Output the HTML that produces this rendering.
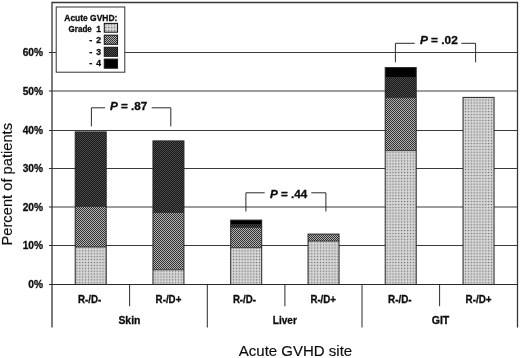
<!DOCTYPE html>
<html><head><meta charset="utf-8"><title>Acute GVHD site</title>
<style>
html,body{margin:0;padding:0;background:#fff;}
body{width:520px;height:358px;overflow:hidden;}
svg{display:block;font-family:"Liberation Sans",Arial,Helvetica,sans-serif;}
text{fill:#0c0c0c;stroke:#0c0c0c;stroke-width:0.15px;}
.b{font-weight:bold;stroke:#0c0c0c;stroke-width:0.3px;}
</style></head><body>
<svg width="520" height="358" viewBox="0 0 520 358">
<defs>
<pattern id="g1" width="2.9" height="2.9" patternUnits="userSpaceOnUse"><rect width="2.9" height="2.9" fill="#d7d7d7"/><rect x="0.9" y="0.9" width="1.2" height="1.2" fill="#6a6a6a"/></pattern>
<pattern id="g2" width="2" height="2" patternUnits="userSpaceOnUse"><rect width="2" height="2" fill="#b2b2b2"/><rect width="1" height="1" fill="#303030"/><rect x="1" y="1" width="1" height="1" fill="#303030"/></pattern>
<pattern id="g3" width="2" height="2" patternUnits="userSpaceOnUse"><rect width="2" height="2" fill="#161616"/><rect width="1" height="1" fill="#4c4c4c"/><rect x="1" y="1" width="1" height="1" fill="#4c4c4c"/></pattern>
</defs>
<rect width="520" height="358" fill="#fff"/>

<line x1="52.0" x2="517.5" y1="245.50" y2="245.50" stroke="#3a3a3a" stroke-width="1"/>
<line x1="52.0" x2="517.5" y1="207.00" y2="207.00" stroke="#3a3a3a" stroke-width="1"/>
<line x1="52.0" x2="517.5" y1="168.50" y2="168.50" stroke="#3a3a3a" stroke-width="1"/>
<line x1="52.0" x2="517.5" y1="130.50" y2="130.50" stroke="#3a3a3a" stroke-width="1"/>
<line x1="52.0" x2="517.5" y1="91.00" y2="91.00" stroke="#3a3a3a" stroke-width="1"/>
<line x1="52.0" x2="517.5" y1="52.50" y2="52.50" stroke="#3a3a3a" stroke-width="1"/>
<path d="M52.0 327.5V2.5H517.5V327.5" fill="none" stroke="#363636" stroke-width="1.3"/>
<line x1="49" x2="517.5" y1="284.5" y2="284.5" stroke="#2a2a2a" stroke-width="1"/>
<line x1="49" x2="52.0" y1="284.50" y2="284.50" stroke="#2a2a2a" stroke-width="1"/>
<text class="b" x="28.20" y="288.30" font-size="10.4" textLength="14.80" lengthAdjust="spacingAndGlyphs">0%</text>
<line x1="49" x2="52.0" y1="245.50" y2="245.50" stroke="#2a2a2a" stroke-width="1"/>
<text class="b" x="22.70" y="249.30" font-size="10.4" textLength="20.30" lengthAdjust="spacingAndGlyphs">10%</text>
<line x1="49" x2="52.0" y1="207.00" y2="207.00" stroke="#2a2a2a" stroke-width="1"/>
<text class="b" x="22.70" y="210.80" font-size="10.4" textLength="20.30" lengthAdjust="spacingAndGlyphs">20%</text>
<line x1="49" x2="52.0" y1="168.50" y2="168.50" stroke="#2a2a2a" stroke-width="1"/>
<text class="b" x="22.70" y="172.30" font-size="10.4" textLength="20.30" lengthAdjust="spacingAndGlyphs">30%</text>
<line x1="49" x2="52.0" y1="130.50" y2="130.50" stroke="#2a2a2a" stroke-width="1"/>
<text class="b" x="22.70" y="134.30" font-size="10.4" textLength="20.30" lengthAdjust="spacingAndGlyphs">40%</text>
<line x1="49" x2="52.0" y1="91.00" y2="91.00" stroke="#2a2a2a" stroke-width="1"/>
<text class="b" x="22.70" y="94.80" font-size="10.4" textLength="20.30" lengthAdjust="spacingAndGlyphs">50%</text>
<line x1="49" x2="52.0" y1="52.50" y2="52.50" stroke="#2a2a2a" stroke-width="1"/>
<text class="b" x="22.70" y="56.30" font-size="10.4" textLength="20.30" lengthAdjust="spacingAndGlyphs">60%</text>
<rect x="75.20" y="247.00" width="31" height="37.50" fill="url(#g1)"/>
<rect x="75.20" y="206.40" width="31" height="40.60" fill="url(#g2)"/>
<line x1="75.20" x2="106.20" y1="247.00" y2="247.00" stroke="#222" stroke-width="0.8"/>
<rect x="75.20" y="131.90" width="31" height="74.50" fill="url(#g3)"/>
<line x1="75.20" x2="106.20" y1="206.40" y2="206.40" stroke="#222" stroke-width="0.8"/>
<rect x="75.20" y="131.90" width="31" height="152.60" fill="none" stroke="#262626" stroke-width="1"/>
<rect x="152.95" y="269.80" width="31" height="14.70" fill="url(#g1)"/>
<rect x="152.95" y="212.50" width="31" height="57.30" fill="url(#g2)"/>
<line x1="152.95" x2="183.95" y1="269.80" y2="269.80" stroke="#222" stroke-width="0.8"/>
<rect x="152.95" y="140.90" width="31" height="71.60" fill="url(#g3)"/>
<line x1="152.95" x2="183.95" y1="212.50" y2="212.50" stroke="#222" stroke-width="0.8"/>
<rect x="152.95" y="140.90" width="31" height="143.60" fill="none" stroke="#262626" stroke-width="1"/>
<rect x="230.70" y="247.70" width="31" height="36.80" fill="url(#g1)"/>
<rect x="230.70" y="227.40" width="31" height="20.30" fill="url(#g2)"/>
<line x1="230.70" x2="261.70" y1="247.70" y2="247.70" stroke="#222" stroke-width="0.8"/>
<rect x="230.70" y="224.60" width="31" height="2.80" fill="url(#g3)"/>
<line x1="230.70" x2="261.70" y1="227.40" y2="227.40" stroke="#222" stroke-width="0.8"/>
<rect x="230.70" y="220.10" width="31" height="4.50" fill="#000"/>
<line x1="230.70" x2="261.70" y1="224.60" y2="224.60" stroke="#222" stroke-width="0.8"/>
<rect x="230.70" y="220.10" width="31" height="64.40" fill="none" stroke="#262626" stroke-width="1"/>
<rect x="308.05" y="241.10" width="31" height="43.40" fill="url(#g1)"/>
<rect x="308.05" y="234.10" width="31" height="7.00" fill="url(#g2)"/>
<line x1="308.05" x2="339.05" y1="241.10" y2="241.10" stroke="#222" stroke-width="0.8"/>
<rect x="308.05" y="234.10" width="31" height="50.40" fill="none" stroke="#262626" stroke-width="1"/>
<rect x="385.20" y="150.60" width="31" height="133.90" fill="url(#g1)"/>
<rect x="385.20" y="97.60" width="31" height="53.00" fill="url(#g2)"/>
<line x1="385.20" x2="416.20" y1="150.60" y2="150.60" stroke="#222" stroke-width="0.8"/>
<rect x="385.20" y="77.30" width="31" height="20.30" fill="url(#g3)"/>
<line x1="385.20" x2="416.20" y1="97.60" y2="97.60" stroke="#222" stroke-width="0.8"/>
<rect x="385.20" y="67.60" width="31" height="9.70" fill="#000"/>
<line x1="385.20" x2="416.20" y1="77.30" y2="77.30" stroke="#222" stroke-width="0.8"/>
<rect x="385.20" y="67.60" width="31" height="216.90" fill="none" stroke="#262626" stroke-width="1"/>
<rect x="463.05" y="97.40" width="31" height="187.10" fill="url(#g1)"/>
<rect x="463.05" y="97.40" width="31" height="187.10" fill="none" stroke="#262626" stroke-width="1"/>
<line x1="129.60" x2="129.60" y1="284.5" y2="306.2" stroke="#2a2a2a" stroke-width="1"/>
<line x1="207.30" x2="207.30" y1="284.5" y2="327.5" stroke="#2a2a2a" stroke-width="1"/>
<line x1="284.90" x2="284.90" y1="284.5" y2="306.2" stroke="#2a2a2a" stroke-width="1"/>
<line x1="362.00" x2="362.00" y1="284.5" y2="327.5" stroke="#2a2a2a" stroke-width="1"/>
<line x1="439.60" x2="439.60" y1="284.5" y2="306.2" stroke="#2a2a2a" stroke-width="1"/>
<text class="b" x="78.00" y="302.80" font-size="10" textLength="23.20" lengthAdjust="spacingAndGlyphs">R-/D-</text>
<text class="b" x="155.60" y="302.80" font-size="10" textLength="25.80" lengthAdjust="spacingAndGlyphs">R-/D+</text>
<text class="b" x="232.90" y="302.80" font-size="10" textLength="23.10" lengthAdjust="spacingAndGlyphs">R-/D-</text>
<text class="b" x="310.40" y="302.80" font-size="10" textLength="25.60" lengthAdjust="spacingAndGlyphs">R-/D+</text>
<text class="b" x="388.10" y="302.80" font-size="10" textLength="23.50" lengthAdjust="spacingAndGlyphs">R-/D-</text>
<text class="b" x="465.60" y="302.80" font-size="10" textLength="26.00" lengthAdjust="spacingAndGlyphs">R-/D+</text>
<text class="b" x="118.40" y="324.30" font-size="10.4" textLength="22.00" lengthAdjust="spacingAndGlyphs">Skin</text>
<text class="b" x="272.80" y="324.30" font-size="10.4" textLength="24.00" lengthAdjust="spacingAndGlyphs">Liver</text>
<text class="b" x="431.70" y="324.30" font-size="10.4" textLength="17.60" lengthAdjust="spacingAndGlyphs">GIT</text>
<path d="M91.4 126.4V107.8H105.1M151.7 107.8H170.8V126.4" fill="none" stroke="#2a2a2a" stroke-width="1"/>
<text class="b" x="109.90" y="109.60" font-size="10.5" textLength="37.40" lengthAdjust="spacingAndGlyphs"><tspan font-style="italic">P</tspan> = .87</text>
<path d="M245.9 211.5V192.8H264.7M311.3 192.8H325.9V211.5" fill="none" stroke="#2a2a2a" stroke-width="1"/>
<text class="b" x="269.90" y="197.70" font-size="10.5" textLength="37.30" lengthAdjust="spacingAndGlyphs"><tspan font-style="italic">P</tspan> = .44</text>
<path d="M395.4 62.3V43.3H414.7M461.3 43.3H475.6V62.3" fill="none" stroke="#2a2a2a" stroke-width="1"/>
<text class="b" x="419.90" y="43.80" font-size="10.5" textLength="37.90" lengthAdjust="spacingAndGlyphs"><tspan font-style="italic">P</tspan> = .02</text>
<rect x="56.2" y="7" width="68.6" height="65.2" fill="#fff" stroke="#333" stroke-width="1"/>
<text class="b" x="64.30" y="20.70" font-size="8.8" textLength="53.00" lengthAdjust="spacingAndGlyphs">Acute GVHD:</text>
<text class="b" x="68.60" y="32.30" font-size="8.6" textLength="23.20" lengthAdjust="spacingAndGlyphs">Grade</text>
<text class="b" x="96.20" y="32.30" font-size="8.6" textLength="4.80" lengthAdjust="spacingAndGlyphs">1</text>
<rect x="104.3" y="23.4" width="13.2" height="8.80" fill="url(#g1)" stroke="#1a1a1a" stroke-width="1.1"/>
<text class="b" x="89.30" y="42.90" font-size="8.6" textLength="3.10" lengthAdjust="spacingAndGlyphs">-</text>
<text class="b" x="96.20" y="42.90" font-size="8.6" textLength="4.80" lengthAdjust="spacingAndGlyphs">2</text>
<rect x="104.3" y="35.2" width="13.2" height="9.10" fill="url(#g2)" stroke="#1a1a1a" stroke-width="1.1"/>
<text class="b" x="89.30" y="54.80" font-size="8.6" textLength="3.10" lengthAdjust="spacingAndGlyphs">-</text>
<text class="b" x="96.20" y="54.80" font-size="8.6" textLength="4.80" lengthAdjust="spacingAndGlyphs">3</text>
<rect x="104.3" y="47.3" width="13.2" height="9.00" fill="url(#g3)" stroke="#1a1a1a" stroke-width="1.1"/>
<text class="b" x="89.30" y="66.30" font-size="8.6" textLength="3.10" lengthAdjust="spacingAndGlyphs">-</text>
<text class="b" x="96.20" y="66.30" font-size="8.6" textLength="4.80" lengthAdjust="spacingAndGlyphs">4</text>
<rect x="104.3" y="59.1" width="13.2" height="9.10" fill="#000" stroke="#1a1a1a" stroke-width="1.1"/>
<text x="238.80" y="356.20" font-size="14.6" textLength="113.40" lengthAdjust="spacingAndGlyphs">Acute GVHD site</text>
<g transform="translate(12,184) rotate(-90)">
<text x="-61.50" y="0.20" font-size="13.8" textLength="122.50" lengthAdjust="spacingAndGlyphs">Percent of patients</text>
</g>
</svg></body></html>
